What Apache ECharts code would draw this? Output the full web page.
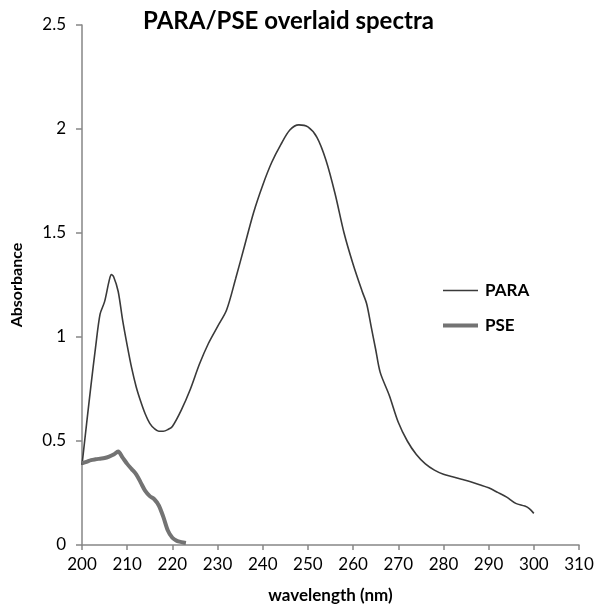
<!DOCTYPE html>
<html>
<head>
<meta charset="utf-8">
<script src="https://cdn.jsdelivr.net/npm/echarts@6/dist/echarts.min.js"></script>
<style>html,body{margin:0;padding:0;background:#fff}#c{width:595px;height:605px}</style>
</head>
<body>
<div id="c"></div>
<script>
const paraWl = [200,201,202,203,204,205,206,206.5,207,208,209,210,211,212,213,214,215,216,217,218,219,220,222,224,226,228,230,232,234,236,238,240,242,244,246,248,250,252,254,256,258,260,262,263,264,265,266,268,270,272,274,276,278,280,282,284,286,288,290,292,294,296,298,299,300];
const paraAbs = [0.385,0.58,0.77,0.95,1.11,1.17,1.27,1.30,1.29,1.22,1.08,0.96,0.85,0.76,0.69,0.63,0.585,0.56,0.547,0.547,0.555,0.57,0.65,0.75,0.87,0.97,1.05,1.13,1.28,1.44,1.60,1.73,1.84,1.925,1.995,2.02,2.01,1.96,1.85,1.69,1.50,1.35,1.22,1.16,1.05,0.94,0.83,0.72,0.59,0.50,0.435,0.39,0.36,0.34,0.328,0.316,0.304,0.29,0.275,0.253,0.23,0.20,0.187,0.175,0.152];
const pseWl = [200,201,202,203,204,205,206,207,208,209,210,211,212,213,214,215,216,217,218,219,220,221,222,223];
const pseAbs = [0.393,0.40,0.408,0.412,0.415,0.418,0.425,0.435,0.449,0.42,0.39,0.365,0.34,0.30,0.26,0.235,0.22,0.19,0.135,0.07,0.035,0.02,0.014,0.01];
const seriesNames = ['PARA','PSE'];
const titleText = 'PARA/PSE overlaid spectra';
const xName = 'wavelength (nm)';
const yName = 'Absorbance';

const chart = echarts.init(document.getElementById('c'));
const font = 'Lato, "Open Sans", sans-serif';
chart.setOption({
  animation: false,
  title: {
    text: titleText, left: 138, top: 4,
    textStyle: {fontFamily: font, fontWeight: 'bold', fontSize: 24, color: '#000'}
  },
  legend: {
    orient: 'vertical', left: 443, top: 282, padding: 0,
    itemWidth: 35, itemHeight: 14, itemGap: 18,
    symbolKeepAspect: true,
    textStyle: {fontFamily: font, fontWeight: 'bold', fontSize: 17, color: '#000', padding: [0,0,0,2]},
    data: [
      {name: seriesNames[0], icon: 'path://M0,0H350V16H0Z'},
      {name: seriesNames[1], icon: 'path://M0,0H350V42H0Z'}
    ]
  },
  grid: {left: 82, right: 16, top: 25, bottom: 60, containLabel: false, outerBoundsMode: 'none'},
  xAxis: {
    type: 'value', min: 200, max: 310, interval: 10,
    name: xName, nameLocation: 'middle', nameGap: 42,
    nameTextStyle: {fontFamily: font, fontWeight: 'bold', fontSize: 17, color: '#000'},
    axisLine: {lineStyle: {color: '#868686', width: 1.5}},
    axisTick: {show: true, length: 5, lineStyle: {color: '#868686', width: 1.5}},
    axisLabel: {fontFamily: font, fontSize: 17, color: '#000', margin: 11},
    splitLine: {show: false}
  },
  yAxis: {
    type: 'value', min: 0, max: 2.5, interval: 0.5,
    name: yName, nameLocation: 'middle', nameGap: 57,
    nameTextStyle: {fontFamily: font, fontWeight: 'bold', fontSize: 16, color: '#000'},
    axisLine: {show: true, lineStyle: {color: '#868686', width: 1.5}},
    axisTick: {show: true, length: 6, lineStyle: {color: '#868686', width: 1.5}},
    axisLabel: {fontFamily: font, fontSize: 17, color: '#000', margin: 16},
    splitLine: {show: false}
  },
  series: [
    {
      name: seriesNames[0], type: 'line', symbol: 'none', smooth: 0.3,
      data: paraWl.map((w, i) => [w, paraAbs[i]]),
      lineStyle: {color: '#3a3a3a', width: 1.6},
      itemStyle: {color: '#3a3a3a'}
    },
    {
      name: seriesNames[1], type: 'line', symbol: 'none', smooth: 0.3,
      data: pseWl.map((w, i) => [w, pseAbs[i]]),
      lineStyle: {color: '#737373', width: 4},
      itemStyle: {color: '#737373'}
    }
  ]
});
</script>
</body>
</html>
